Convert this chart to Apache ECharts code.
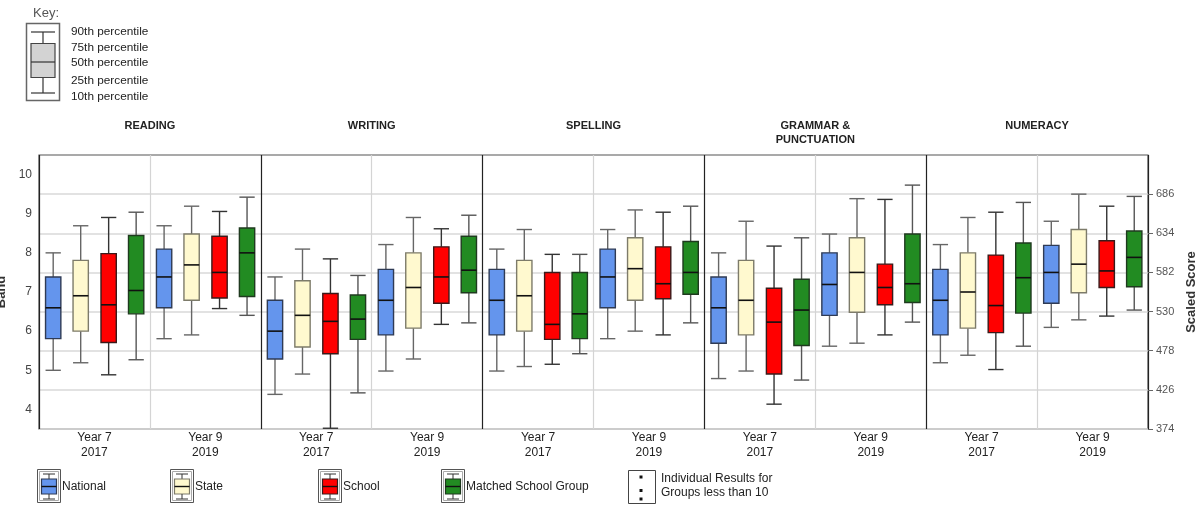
<!DOCTYPE html>
<html>
<head>
<meta charset="utf-8">
<script src="https://cdn.jsdelivr.net/npm/echarts@6/dist/echarts.min.js"></script>
<style>
html,body{margin:0;padding:0;background:#fff;}
#chart{width:1200px;height:507px;}
</style>
</head>
<body>
<div id="chart"></div>
<script>
// ---------- DATA ----------
const subjects = ['READING', 'WRITING', 'SPELLING', 'GRAMMAR &\nPUNCTUATION', 'NUMERACY'];
const categories = ['Year 7\n2017', 'Year 9\n2019', 'Year 7\n2017', 'Year 9\n2019', 'Year 7\n2017',
                    'Year 9\n2019', 'Year 7\n2017', 'Year 9\n2019', 'Year 7\n2017', 'Year 9\n2019'];
const seriesNames = ['National', 'State', 'School', 'Matched School Group'];
const scoreTicks = [374, 426, 478, 530, 582, 634, 686];
const bandTicks = [4, 5, 6, 7, 8, 9, 10];
const keyLabels = ['90th percentile', '75th percentile', '50th percentile', '25th percentile', '10th percentile'];
const noteLines = ['Individual Results for', 'Groups less than 10'];

// each row: [p10, p25, p50, p75, p90] in scaled score, one row per category
const national = [
  [452, 494, 535, 576, 608], [494, 535, 576, 613, 644],
  [420, 467, 504, 545, 576], [451, 499, 545, 586, 619],
  [451, 499, 545, 586, 613], [494, 535, 576, 613, 639],
  [441, 488, 535, 576, 608], [484, 525, 566, 608, 633],
  [462, 499, 545, 586, 619], [509, 541, 582, 618, 650]
];
const state = [
  [462, 504, 551, 598, 644], [499, 545, 592, 633, 670],
  [447, 483, 525, 571, 613], [467, 508, 562, 608, 655],
  [457, 504, 551, 598, 639], [504, 545, 587, 628, 665],
  [451, 499, 545, 598, 650], [488, 529, 582, 628, 680],
  [472, 508, 556, 608, 655], [519, 555, 593, 639, 686]
];
const school = [
  [446, 489, 539, 607, 655], [534, 548, 582, 630, 663],
  [375, 474, 517, 554, 600], [513, 541, 576, 616, 640],
  [460, 493, 513, 582, 606], [499, 547, 567, 616, 662],
  [407, 447, 516, 561, 617], [499, 539, 562, 593, 679],
  [453, 502, 538, 605, 662], [524, 562, 584, 624, 670]
];
const matched = [
  [466, 527, 558, 631, 662], [525, 550, 608, 641, 682],
  [422, 493, 520, 552, 578], [515, 555, 585, 630, 658],
  [474, 494, 527, 582, 606], [515, 553, 582, 623, 670],
  [439, 485, 532, 573, 628], [516, 542, 567, 633, 698],
  [484, 528, 575, 621, 675], [532, 563, 602, 637, 683]
];
const seriesData = [national, state, school, matched];

// ---------- STYLE ----------
const FONT = '"Liberation Sans", Arial, sans-serif';
const fills = ['#6495ED', '#FFF9CF', '#FF0000', '#228B22'];
const borders = ['#2f3b55', '#7d7b6a', '#3a1a1a', '#1f3a1f'];
const whiskers = ['#666', '#666', '#333', '#555'];
const offsets = [-0.372, -0.124, 0.128, 0.376];   // fraction of category band
const boxFrac = 0.138;
const G = { left: 39, right: 52, top: 155, bottom: 78 };
const plotW = 1200 - G.left - G.right;
const panelW = plotW / subjects.length;

function renderItem(params, api) {
  const si = params.seriesIndex;
  const cat = api.value(0);
  const bw = api.size([1, 0])[0];
  const base = api.coord([cat, api.value(3)]);
  const cx = base[0] + offsets[si] * bw;
  const w = bw * boxFrac;
  const y10 = api.coord([cat, api.value(1)])[1];
  const y25 = api.coord([cat, api.value(2)])[1];
  const y50 = api.coord([cat, api.value(3)])[1];
  const y75 = api.coord([cat, api.value(4)])[1];
  const y90 = api.coord([cat, api.value(5)])[1];
  const wk = { stroke: whiskers[si], lineWidth: 1.4 };
  return {
    type: 'group',
    children: [
      { type: 'line', shape: { x1: cx, y1: y90, x2: cx, y2: y75 }, style: wk },
      { type: 'line', shape: { x1: cx, y1: y25, x2: cx, y2: y10 }, style: wk },
      { type: 'line', shape: { x1: cx - w / 2, y1: y90, x2: cx + w / 2, y2: y90 }, style: wk },
      { type: 'line', shape: { x1: cx - w / 2, y1: y10, x2: cx + w / 2, y2: y10 }, style: wk },
      { type: 'rect', shape: { x: cx - w / 2, y: y75, width: w, height: y25 - y75 },
        style: { fill: fills[si], stroke: borders[si], lineWidth: 1.4 } },
      { type: 'line', shape: { x1: cx - w / 2, y1: y50, x2: cx + w / 2, y2: y50 },
        style: { stroke: '#111', lineWidth: 1.6 } }
    ]
  };
}

const series = seriesNames.map(function (name, si) {
  return {
    name: name,
    type: 'custom',
    xAxisIndex: 0,
    yAxisIndex: 1,
    renderItem: renderItem,
    encode: { x: 0, y: [1, 2, 3, 4, 5] },
    data: seriesData[si].map(function (r, ci) { return [ci].concat(r); }),
    z: 5
  };
});

// ---------- GRAPHICS (key, titles, legend) ----------
const graphics = [];
// panel titles
subjects.forEach(function (s, i) {
  graphics.push({
    type: 'text', x: G.left + panelW * (i + 0.5), y: 119,
    style: { text: s, font: 'bold 11px ' + FONT, fill: '#222', align: 'center', verticalAlign: 'top', lineHeight: 14 }
  });
});
// key
graphics.push({ type: 'text', x: 33, y: 13, style: { text: 'Key:', font: '13px ' + FONT, fill: '#555', verticalAlign: 'middle' } });
graphics.push({ type: 'rect', shape: { x: 26.5, y: 23.5, width: 33, height: 77 }, style: { fill: '#fff', stroke: '#666', lineWidth: 1.5 } });
graphics.push({ type: 'line', shape: { x1: 31, y1: 32, x2: 55, y2: 32 }, style: { stroke: '#333', lineWidth: 1.2 } });
graphics.push({ type: 'line', shape: { x1: 43, y1: 32, x2: 43, y2: 43 }, style: { stroke: '#333', lineWidth: 1.2 } });
graphics.push({ type: 'rect', shape: { x: 31, y: 43.5, width: 24, height: 34 }, style: { fill: '#d3d3d3', stroke: '#444', lineWidth: 1.2 } });
graphics.push({ type: 'line', shape: { x1: 31, y1: 62, x2: 55, y2: 62 }, style: { stroke: '#333', lineWidth: 1.2 } });
graphics.push({ type: 'line', shape: { x1: 43, y1: 78, x2: 43, y2: 93 }, style: { stroke: '#333', lineWidth: 1.2 } });
graphics.push({ type: 'line', shape: { x1: 31, y1: 93, x2: 55, y2: 93 }, style: { stroke: '#333', lineWidth: 1.2 } });
const keyY = [32, 48, 63, 81, 97];
keyLabels.forEach(function (t, i) {
  graphics.push({ type: 'text', x: 71, y: keyY[i], style: { text: t, font: '11.8px ' + FONT, fill: '#222', verticalAlign: 'middle' } });
});
// legend
const legX = [37, 170, 318, 441];
seriesNames.forEach(function (n, i) {
  const x0 = legX[i];
  graphics.push({ type: 'rect', shape: { x: x0 + 0.5, y: 469.5, width: 23, height: 33 }, style: { fill: '#fff', stroke: '#555', lineWidth: 1 } });
  graphics.push({ type: 'rect', shape: { x: x0 + 2.5, y: 471.5, width: 19, height: 29 }, style: { fill: 'none', stroke: '#aaa', lineWidth: 1 } });
  graphics.push({ type: 'line', shape: { x1: x0 + 6, y1: 474, x2: x0 + 18, y2: 474 }, style: { stroke: '#333', lineWidth: 1 } });
  graphics.push({ type: 'line', shape: { x1: x0 + 12, y1: 474, x2: x0 + 12, y2: 479 }, style: { stroke: '#333', lineWidth: 1 } });
  graphics.push({ type: 'rect', shape: { x: x0 + 4.5, y: 479, width: 15, height: 15 }, style: { fill: fills[i], stroke: borders[i], lineWidth: 1.2 } });
  graphics.push({ type: 'line', shape: { x1: x0 + 4.5, y1: 486.5, x2: x0 + 19.5, y2: 486.5 }, style: { stroke: '#111', lineWidth: 1.4 } });
  graphics.push({ type: 'line', shape: { x1: x0 + 12, y1: 494, x2: x0 + 12, y2: 499 }, style: { stroke: '#333', lineWidth: 1 } });
  graphics.push({ type: 'line', shape: { x1: x0 + 6, y1: 499, x2: x0 + 18, y2: 499 }, style: { stroke: '#333', lineWidth: 1 } });
  graphics.push({ type: 'text', x: x0 + 25, y: 487, style: { text: n, font: '12px ' + FONT, fill: '#222', verticalAlign: 'middle' } });
});
graphics.push({ type: 'rect', shape: { x: 628.5, y: 470.5, width: 27, height: 33 }, style: { fill: '#fff', stroke: '#444', lineWidth: 1 } });
[477, 490.5, 499].forEach(function (yy) {
  graphics.push({ type: 'rect', shape: { x: 639.5, y: yy - 1.5, width: 3, height: 3 }, style: { fill: '#111' } });
});
noteLines.forEach(function (t, i) {
  graphics.push({ type: 'text', x: 661, y: 478.5 + i * 14.5, style: { text: t, font: '12px ' + FONT, fill: '#222', verticalAlign: 'middle' } });
});

// ---------- OPTION ----------
const option = {
  animation: false,
  textStyle: { fontFamily: FONT },
  grid: { left: G.left, right: G.right, top: G.top, bottom: G.bottom, containLabel: false, outerBoundsMode: 'none',
          show: true, borderColor: '#555', borderWidth: 1.2, backgroundColor: '#fff', z: 0 },
  xAxis: [{
    type: 'category',
    data: categories,
    axisLine: { show: false },
    axisTick: { show: false },
    axisLabel: { color: '#222', fontSize: 12, lineHeight: 15, margin: 1, interval: 0, fontFamily: FONT },
    splitLine: { show: true, lineStyle: { color: ['#222', '#d4d4d4'], width: 1.2 } }
  }],
  yAxis: [{
    type: 'value',
    position: 'left',
    min: 3.5, max: 10.5,
    name: 'Band', nameLocation: 'middle', nameGap: 27,
    nameTextStyle: { fontWeight: 'bold', fontSize: 13, color: '#333', fontFamily: FONT },
    axisLine: { show: false },
    axisTick: { show: false },
    splitLine: { show: false },
    axisLabel: { customValues: bandTicks, color: '#444', fontSize: 12, margin: 7, fontFamily: FONT }
  }, {
    type: 'value',
    position: 'right',
    min: 374, max: 738, interval: 52,
    name: 'Scaled Score', nameLocation: 'middle', nameGap: 33,
    nameTextStyle: { fontWeight: 'bold', fontSize: 13, color: '#333', fontFamily: FONT },
    axisLine: { show: false },
    axisTick: { show: true, customValues: scoreTicks, length: 5, lineStyle: { color: '#666' } },
    splitLine: { show: true, lineStyle: { color: '#d8d8d8', width: 1.5 } },
    axisLabel: { customValues: scoreTicks, color: '#555', fontSize: 11, margin: 8, fontFamily: FONT }
  }],
  series: series,
  graphic: graphics
};

const chart = echarts.init(document.getElementById('chart'), null, { renderer: 'canvas' });
chart.setOption(option);
</script>
</body>
</html>
